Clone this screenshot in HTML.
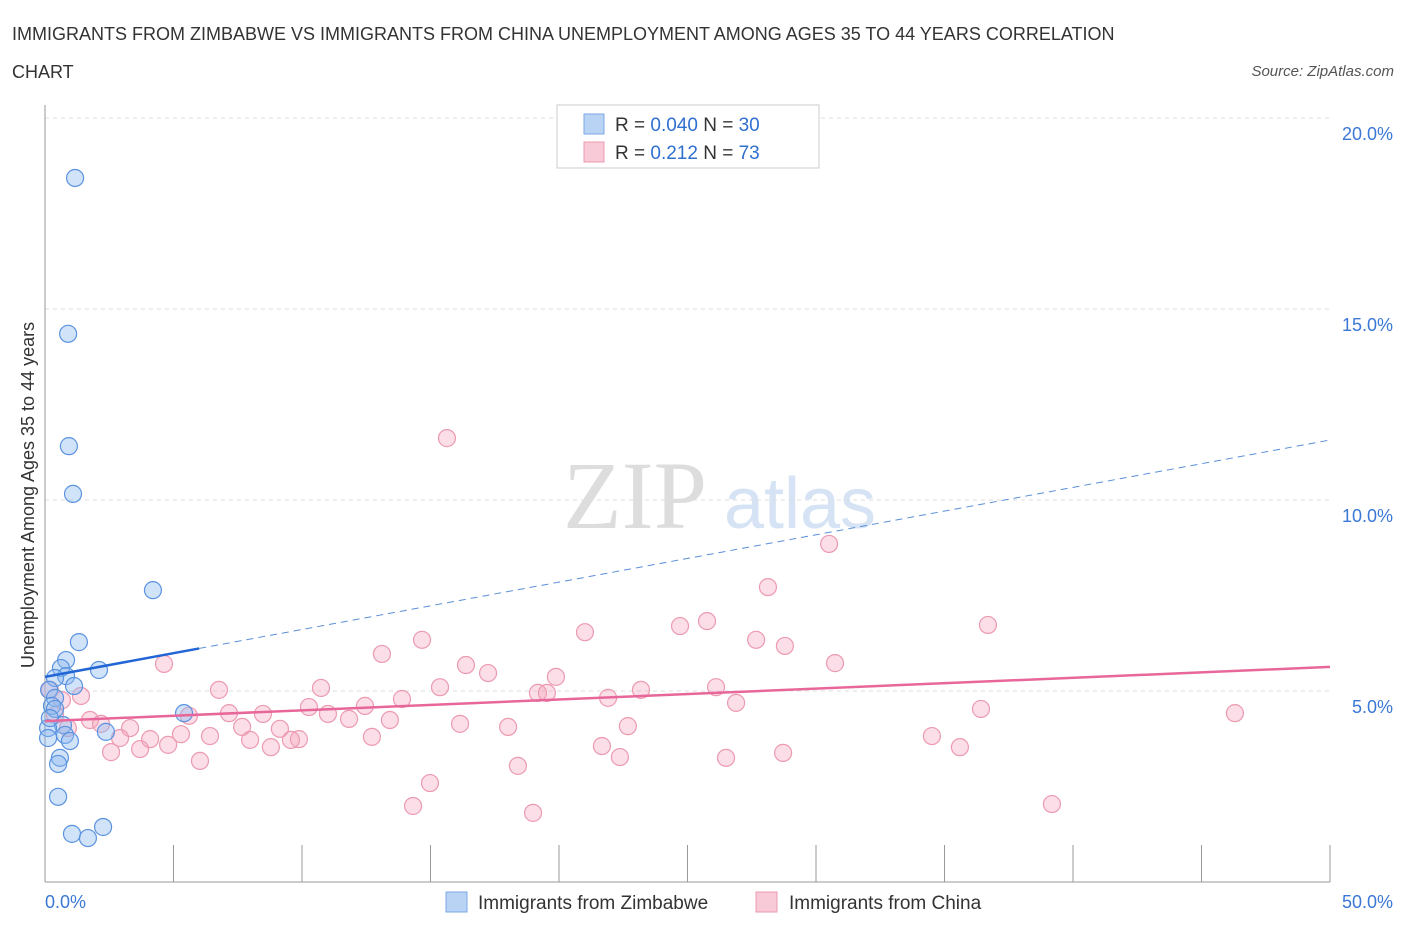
<!DOCTYPE html>
<html><head><meta charset="utf-8"><style>
body{margin:0;background:#fff;font-family:"Liberation Sans",sans-serif;}
</style></head><body>
<svg id="chart" width="1406" height="930" xmlns="http://www.w3.org/2000/svg" font-family="Liberation Sans, sans-serif">
<text x="12" y="40" font-size="18" fill="#333">IMMIGRANTS FROM ZIMBABWE VS IMMIGRANTS FROM CHINA UNEMPLOYMENT AMONG AGES 35 TO 44 YEARS CORRELATION</text>
<text x="12" y="78" font-size="18" fill="#333">CHART</text>
<text x="1394" y="76" font-size="15" fill="#555" text-anchor="end" font-style="italic">Source: ZipAtlas.com</text>
<text x="635" y="528" font-size="96" fill="#ddd" font-family="Liberation Serif, serif" text-anchor="middle">ZIP</text>
<text x="800" y="528" font-size="72" fill="#d5e3f5" text-anchor="middle">atlas</text>
<text transform="translate(34,495) rotate(-90)" font-size="18" fill="#333" text-anchor="middle">Unemployment Among Ages 35 to 44 years</text>
<g id="grid"></g><g id="axes"></g><g id="marks"></g>
<g>
<rect x="557" y="105" width="262" height="63" fill="#fff" stroke="#ccc"/>
<rect x="584" y="114" width="20" height="20" fill="#b9d3f5" stroke="#7aa7e6"/>
<text x="615" y="131" font-size="19" fill="#333">R = <tspan fill="#2f6fd0">0.040</tspan>    N = <tspan fill="#2f6fd0">30</tspan></text>
<rect x="584" y="142" width="20" height="20" fill="#f8c9d6" stroke="#ec9ab0"/>
<text x="615" y="159" font-size="19" fill="#333">R =   <tspan fill="#2f6fd0">0.212</tspan>    N =  <tspan fill="#2f6fd0">73</tspan></text>
</g>
<g>
<rect x="446" y="892" width="21" height="20" fill="#b9d3f5" stroke="#7aa7e6"/>
<text x="478" y="909" font-size="19" fill="#333">Immigrants from Zimbabwe</text>
<rect x="756" y="892" width="21" height="20" fill="#f8c9d6" stroke="#ec9ab0"/>
<text x="789" y="909" font-size="19" fill="#333">Immigrants from China</text>
</g>
</svg>
<script>
const xTicks=[0,5,10,15,20,25,30,35,40,45,50];
const yTicks=[5,10,15,20];
const yTickLabels=["5.0%","10.0%","15.0%","20.0%"];
const zimX=[1.17,0.9,0.93,1.09,4.2,1.32,0.82,0.62,2.1,0.82,1.13,0.39,0.16,0.39,0.27,0.39,5.41,0.7,0.12,2.37,0.78,0.12,0.97,0.58,0.51,0.51,1.05,1.67,2.26,0.19];
const zimY=[18.43,14.35,11.41,10.16,7.64,6.28,5.81,5.6,5.55,5.39,5.13,5.34,5.03,4.82,4.61,4.53,4.42,4.11,4.03,3.93,3.85,3.77,3.69,3.25,3.09,2.23,1.26,1.15,1.44,4.29];
const chinaX=[15.64,30.51,28.13,25.76,24.71,36.69,21.01,14.67,27.67,28.79,13.11,4.63,16.38,30.74,17.24,19.88,26.11,15.37,23.19,10.74,6.77,19.18,19.53,21.91,1.40,13.89,10.27,12.45,26.89,36.42,46.30,7.16,8.48,5.60,11.01,11.83,13.42,1.75,2.18,16.15,22.68,3.31,7.67,18.02,9.14,6.42,5.29,2.92,4.09,9.88,34.51,12.72,7.98,9.57,4.79,8.79,3.70,2.57,21.67,35.60,28.72,26.50,22.37,6.03,18.40,14.98,14.32,39.18,18.99,0.66,0.89,0.39,0.19];
const chinaY=[11.62,8.85,7.72,6.83,6.70,6.73,6.54,6.34,6.34,6.18,5.97,5.71,5.68,5.73,5.47,5.37,5.10,5.10,5.03,5.08,5.03,4.95,4.95,4.82,4.87,4.79,4.58,4.61,4.69,4.53,4.42,4.42,4.40,4.35,4.40,4.27,4.24,4.24,4.14,4.14,4.08,4.03,4.06,4.06,4.01,3.82,3.87,3.77,3.74,3.74,3.82,3.80,3.72,3.72,3.59,3.53,3.48,3.40,3.56,3.53,3.38,3.25,3.27,3.17,3.04,2.59,1.99,2.04,1.81,4.76,4.03,4.37,5.03];
const zimTrend=[5.37,11.57];
const chinaTrend=[4.21,5.63];
const NS="http://www.w3.org/2000/svg";
const X0=45,X1=1330,Y0=882,PXY=38.2;
const sx=v=>X0+(v/50)*(X1-X0);
const sy=v=>Y0-v*PXY;
function mk(tag,attrs,parent){const e=document.createElementNS(NS,tag);for(const k in attrs)e.setAttribute(k,attrs[k]);document.getElementById(parent).appendChild(e);return e;}
yTicks.forEach((t,i)=>{
 const g=mk('line',{x1:X0,x2:X1,y1:sy(t),y2:sy(t),stroke:'#ddd','stroke-dasharray':'4,4'},'grid');
 
 
 const l=mk('text',{x:1393,y:sy(t)+22,'font-size':18,fill:'#3b78d6','text-anchor':'end'},'grid');
 l.textContent=yTickLabels[i];
 
 
});
const ax=mk('line',{x1:X0,x2:X0,y1:105,y2:Y0,stroke:'#999'},'axes');


const bx=mk('line',{x1:X0,x2:X1,y1:Y0,y2:Y0,stroke:'#999'},'axes');


xTicks.forEach(t=>{
 const k=mk('line',{x1:sx(t),x2:sx(t),y1:845,y2:Y0,stroke:'#999'},'axes');
 
 
});
const xl0=mk('text',{x:45,y:908,'font-size':18,fill:'#3b78d6'},'axes');xl0.textContent='0.0%';


const xl1=mk('text',{x:1393,y:908,'font-size':18,fill:'#3b78d6','text-anchor':'end'},'axes');xl1.textContent='50.0%';


chinaX.forEach((x,i)=>{
 const c=mk('circle',{cx:sx(x),cy:sy(chinaY[i]),r:8.5,fill:'rgba(244,160,185,0.35)',stroke:'#ec9ab0','stroke-width':1.2},'marks');
 
 
});
zimX.forEach((x,i)=>{
 const c=mk('circle',{cx:sx(x),cy:sy(zimY[i]),r:8.5,fill:'rgba(140,185,240,0.4)',stroke:'#5b93e0','stroke-width':1.2},'marks');
 
 
});
const zt=v=>zimTrend[0]+(zimTrend[1]-zimTrend[0])*v/50;
const l1=mk('line',{x1:sx(0),y1:sy(zt(0)),x2:sx(6),y2:sy(zt(6)),stroke:'#2266d6','stroke-width':2.5},'marks');


const l2=mk('line',{x1:sx(6),y1:sy(zt(6)),x2:sx(50),y2:sy(zt(50)),stroke:'#5b8fd8','stroke-width':1,'stroke-dasharray':'7,5'},'marks');


const l3=mk('line',{x1:sx(0),y1:sy(chinaTrend[0]),x2:sx(50),y2:sy(chinaTrend[1]),stroke:'#e8679a','stroke-width':2.5},'marks');


</script>
</body></html>
